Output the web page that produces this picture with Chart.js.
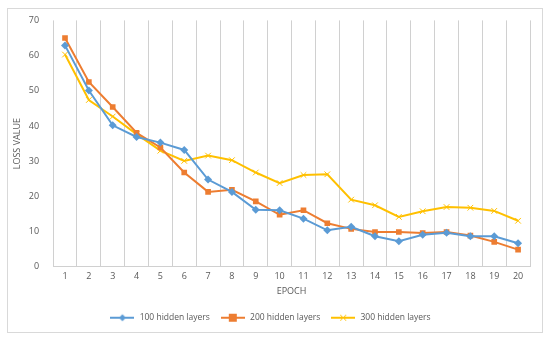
<!DOCTYPE html>
<html lang="en">
<head>
    <meta charset="UTF-8" />
    <title>Loss per epoch</title>
    <style>
        body {
            margin: 0;
            background: #fff;
        }
        .frame {
            position: absolute;
            left: 7px;
            top: 8px;
            width: 534px;
            height: 323px;
            border: 1px solid #d9d9d9;
        }
    </style>
    <script src="https://cdn.jsdelivr.net/npm/chart.js"></script>
</head>
<body>
    <div class="frame">
        <canvas id="chart" width="534" height="323"></canvas>
    </div>
    <script>
        const epochs = ["1", "2", "3", "4", "5", "6", "7", "8", "9", "10",
            "11", "12", "13", "14", "15", "16", "17", "18", "19", "20"];
        const loss100 = [62.9, 50.1, 40.2, 36.9, 35.3, 33.2, 24.8, 21.3, 16.2, 16.1,
            13.7, 10.4, 11.4, 8.7, 7.3, 9.1, 9.7, 8.7, 8.7, 6.7];
        const loss200 = [65, 52.5, 45.4, 38.1, 33.9, 26.8, 21.3, 21.9, 18.6, 14.8,
            16.1, 12.4, 10.8, 9.9, 9.9, 9.6, 9.9, 8.9, 7.1, 4.9];
        const loss300 = [60.3, 47.4, 42.7, 37.7, 33, 30.1, 31.6, 30.3, 26.8, 23.8,
            26.1, 26.3, 19.1, 17.5, 14.2, 15.8, 17, 16.8, 15.9, 13.1];
        const yTicks = [0, 10, 20, 30, 40, 50, 60, 70];

        const textColor = "#595959";
        const fontFamily = "'Open Sans', sans-serif";

        // little line + marker picture for the legend
        function legendIcon(color, style) {
            const c = document.createElement("canvas");
            c.width = 24;
            c.height = 10;
            const g = c.getContext("2d");
            g.strokeStyle = color;
            g.fillStyle = color;
            g.lineWidth = 2;
            g.beginPath();
            g.moveTo(0, 5);
            g.lineTo(24, 5);
            g.stroke();
            g.beginPath();
            if (style === "rect") {
                g.fillRect(8, 1, 8, 8);
            } else if (style === "rectRot") {
                g.moveTo(12, 1.5);
                g.lineTo(15.5, 5);
                g.lineTo(12, 8.5);
                g.lineTo(8.5, 5);
                g.closePath();
                g.fill();
            } else {
                g.lineWidth = 1;
                g.moveTo(9, 2);
                g.lineTo(15, 8);
                g.moveTo(15, 2);
                g.lineTo(9, 8);
                g.stroke();
            }
            return c;
        }

        const series = [
            { label: "100 hidden layers", data: loss100, color: "#5b9bd5", style: "rectRot", radius: 4 },
            { label: "200 hidden layers", data: loss200, color: "#ed7d31", style: "rect", radius: 4 },
            { label: "300 hidden layers", data: loss300, color: "#ffc000", style: "crossRot", radius: 4 },
        ];

        new Chart(document.getElementById("chart"), {
            type: "line",
            data: {
                labels: epochs,
                datasets: series.map((s) => ({
                    label: s.label,
                    data: s.data,
                    borderColor: s.color,
                    backgroundColor: s.color,
                    borderWidth: 2,
                    pointStyle: s.style,
                    pointRadius: s.radius,
                    pointBorderWidth: s.style === "crossRot" ? 1 : 0,
                    pointBackgroundColor: s.color,
                    pointBorderColor: s.color,
                    tension: 0,
                })),
            },
            options: {
                responsive: false,
                animation: false,
                layout: { padding: { left: 2, right: 12, top: 6, bottom: 0 } },
                plugins: {
                    legend: {
                        position: "bottom",
                        labels: {
                            usePointStyle: true,
                            pointStyleWidth: 26,
                            color: textColor,
                            font: { family: fontFamily, size: 8.5 },
                            padding: 10,
                            boxHeight: 10,
                            generateLabels: () =>
                                series.map((s, i) => ({
                                    text: s.label,
                                    fillStyle: s.color,
                                    strokeStyle: s.color,
                                    fontColor: textColor,
                                    pointStyle: legendIcon(s.color, s.style),
                                    datasetIndex: i,
                                    lineWidth: 0,
                                })),
                        },
                    },
                    tooltip: { enabled: false },
                },
                scales: {
                    x: {
                        offset: true,
                        grid: { offset: true, color: "#d0d0d0", lineWidth: 1, tickLength: 0 },
                        border: { color: "#d0d0d0" },
                        ticks: {
                            color: textColor,
                            font: { family: fontFamily, size: 9 },
                            padding: 4,
                            maxRotation: 0,
                        },
                        title: {
                            display: true,
                            text: "EPOCH",
                            color: textColor,
                            font: { family: fontFamily, size: 9 },
                            padding: { top: 0, bottom: 7 },
                        },
                    },
                    y: {
                        min: 0,
                        max: 70,
                        afterBuildTicks: (axis) => {
                            axis.ticks = yTicks.map((v) => ({ value: v }));
                        },
                        grid: { display: false },
                        border: { display: false },
                        ticks: {
                            color: textColor,
                            font: { family: fontFamily, size: 9 },
                            padding: 6,
                        },
                        title: {
                            display: true,
                            text: "LOSS VALUE",
                            color: textColor,
                            font: { family: fontFamily, size: 9 },
                            padding: { top: 2, bottom: 0 },
                        },
                    },
                },
            },
        });
    </script>
</body>
</html>
